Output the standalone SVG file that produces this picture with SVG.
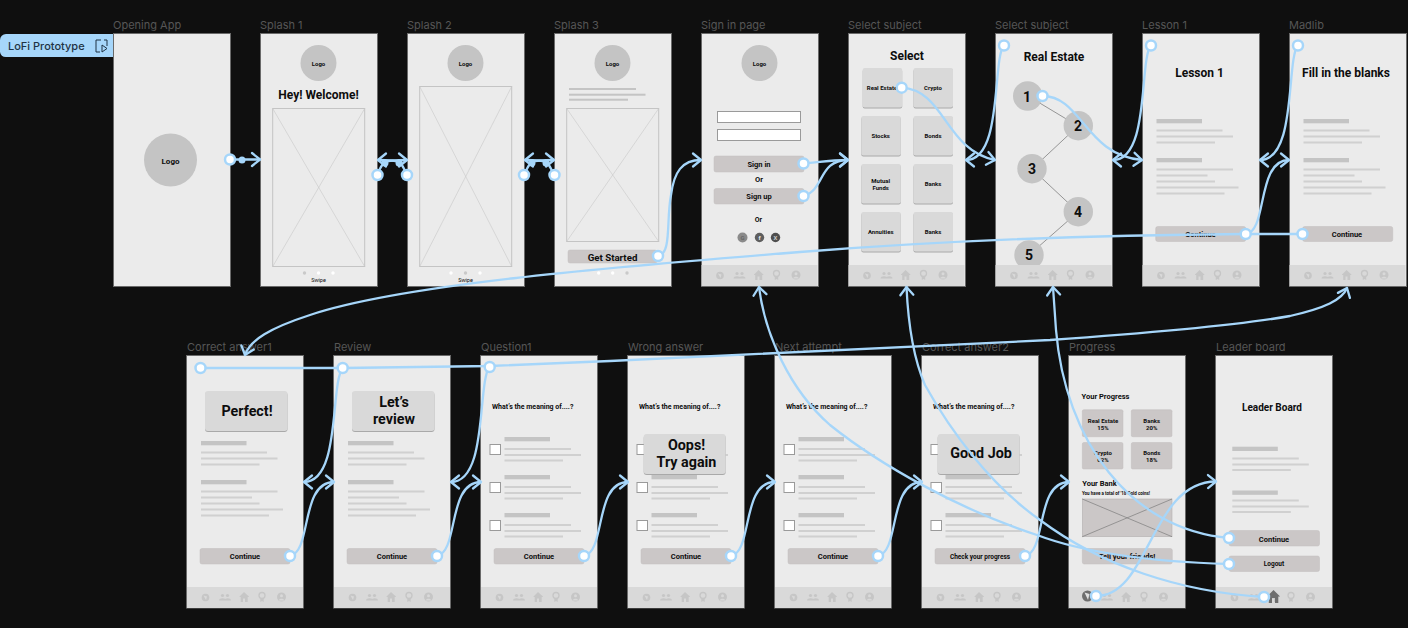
<svg xmlns="http://www.w3.org/2000/svg" width="1408" height="628" viewBox="0 0 1408 628">
<style>
text{font-family:Roboto,"Liberation Sans",sans-serif;font-weight:700;fill:#0d0d0d;text-anchor:middle;dominant-baseline:central}
.lbl{font-family:Inter,"Liberation Sans",sans-serif;font-weight:400;font-size:11px;fill:#565656;text-anchor:start;dominant-baseline:auto}
.f{fill:#ebebeb;stroke:#6a6a6a;stroke-width:1}
.nb{fill:#d9d9d9}
.ic{fill:#c6c6c6}
.bar{fill:#c4c4c4}
.ln{fill:#d0d0d0}
.cir{fill:#c4c4c4}
.ph{fill:none;stroke:#c4c4c4;stroke-width:1}
.phx{stroke:#c8c8c8;stroke-width:.6;fill:none}
.btn{fill:#cbc7c7;stroke:#c0bcbc;stroke-width:.5}
.tile{fill:#d9d9d9;filter:drop-shadow(0 1px .4px rgba(0,0,0,.28))}
.box{fill:#fff;stroke:#9a9a9a;stroke-width:1}
.c{fill:none;stroke:#a6d6fa;stroke-width:2.3;stroke-linecap:round;stroke-linejoin:round}
.a{marker-end:url(#arr)}
.h{fill:#fff;stroke:#a6d6fa;stroke-width:2.5}
.d{fill:#a6d6fa}
.s5{font-size:5.5px;font-weight:400}.s6{font-size:6px}.s65{font-size:6.5px}.s7{font-size:7px}.s75{font-size:7.5px}.s8{font-size:8px}.s10{font-size:10px}.s12{font-size:12px}.s15{font-size:14.3px}
.num{font-size:14px}
</style>
<defs>
<marker id="arr" markerUnits="userSpaceOnUse" markerWidth="22" markerHeight="22" refX="11" refY="11" orient="auto" overflow="visible">
<path d="M3 4.500L11 11L3 17.500" fill="none" stroke="#a6d6fa" stroke-width="2.300" stroke-linecap="round" stroke-linejoin="round"/>
</marker>
<g id="nav">
<rect class="nb" x=".5" y="231.500" width="116" height="21"/>
<circle class="ic" cx="19" cy="242" r="3.800"/><path d="M17 240l3.500 1-1 3.500z" fill="#d9d9d9"/>
<circle class="ic" cx="36" cy="240" r="1.600"/><circle class="ic" cx="41" cy="240" r="1.600"/><path class="ic" d="M32.500 245c0-3 7-3 7 0zM38 245c0-3 6.500-3 6.500 0z"/>
<path class="ic" d="M57.500 236.500L53 241v0.500h1.200v5h7v-5h1.200v-.5zM56.500 243h2v3.500h-2z"/>
<circle fill="none" stroke="#c6c6c6" stroke-width="1.300" cx="75.500" cy="240" r="3"/><path class="ic" d="M73.800 243h3.400v3.500l-1.700-1-1.700 1z"/>
<circle class="ic" cx="95" cy="241.500" r="4.500"/><circle cx="95" cy="240.200" r="1.500" fill="#d9d9d9"/><path d="M92 245c.8-2.200 5.200-2.200 6 0z" fill="#d9d9d9"/>
</g>
<g id="blk">
<rect class="bar" x="14.500" y="85.500" width="45.500" height="4.300"/>
<rect class="ln" x="14.500" y="96" width="66" height="2"/><rect class="ln" x="14.500" y="102" width="76.500" height="2"/><rect class="ln" x="14.500" y="108" width="58.500" height="2"/>
<rect class="bar" x="14.500" y="124.500" width="45.500" height="4.300"/>
<rect class="ln" x="14.500" y="135" width="76.500" height="2"/><rect class="ln" x="14.500" y="141" width="51" height="2"/><rect class="ln" x="14.500" y="147" width="58.500" height="2"/><rect class="ln" x="14.500" y="153" width="82" height="2"/><rect class="ln" x="14.500" y="159" width="68" height="2"/>
</g>
<g id="opt">
<rect class="bar" x="24" y="81.500" width="45.500" height="4.300"/>
<rect class="ln" x="24" y="92.500" width="66.500" height="2"/><rect class="ln" x="24" y="98.500" width="76.500" height="2"/><rect class="ln" x="24" y="104" width="58.500" height="2"/>
<rect class="bar" x="24" y="119.500" width="45.500" height="4.300"/>
<rect class="ln" x="24" y="130.500" width="66.500" height="2"/><rect class="ln" x="24" y="136.500" width="76.500" height="2"/><rect class="ln" x="24" y="142" width="58.500" height="2"/>
<rect class="bar" x="24" y="157.500" width="45.500" height="4.300"/>
<rect class="ln" x="24" y="168.500" width="66.500" height="2"/><rect class="ln" x="24" y="174.500" width="76.500" height="2"/><rect class="ln" x="24" y="180" width="58.500" height="2"/>
<rect class="box" x="9.500" y="89" width="10.500" height="10"/><rect class="box" x="9.500" y="127" width="10.500" height="10"/><rect class="box" x="9.500" y="165" width="10.500" height="10"/>
</g>
</defs>
<rect width="1408" height="628" fill="#0f0f0f"/>

<g id="lofi-label">
<path d="M113 34H6a6 6 0 0 0-6 6V52a6 6 0 0 0 6 5H113z" fill="#a6d6fa"/>
<text x="8" y="46" style="font-family:Inter,'Liberation Sans',sans-serif;font-weight:500;font-size:11px;text-anchor:start;fill:#1f3344">LoFi Prototype</text>
<path d="M101 40h-5v12h4M107 46v-6h-3M102 45v7l5-3.500z" fill="none" stroke="#1f3344" stroke-width="1"/>
</g>

<g id="opening-app">
<text class="lbl" x="113" y="29">Opening App</text>
<rect class="f" x="113.500" y="33.500" width="117" height="253"/>
<circle class="cir" cx="170.500" cy="160" r="26.500"/>
<text class="s8" x="170.500" y="161">Logo</text>
</g>

<g id="splash-1">
<text class="lbl" x="260" y="29">Splash 1</text>
<rect class="f" x="260.500" y="33.500" width="117" height="253"/>
<circle class="cir" cx="318.500" cy="63" r="18"/>
<text class="s6" x="318.500" y="63">Logo</text>
<text class="s12" x="318.500" y="94.500">Hey! Welcome!</text>
<rect class="ph" x="272.700" y="108.500" width="92" height="158"/>
<path class="phx" d="M272.700 108.500L364.700 266.500M364.700 108.500L272.700 266.500"/>
<circle cx="304.500" cy="273" r="1.700" fill="#c9c9c9"/><circle cx="318.500" cy="273" r="1.700" fill="#fff"/><circle cx="333" cy="273" r="1.700" fill="#fff"/>
<text class="s5" x="318.500" y="280">Swipe</text>
</g>

<g id="splash-2">
<text class="lbl" x="407" y="29">Splash 2</text>
<rect class="f" x="407.500" y="33.500" width="117" height="253"/>
<circle class="cir" cx="465.500" cy="63" r="18"/>
<text class="s6" x="465.500" y="63">Logo</text>
<rect class="ph" x="419.700" y="86.500" width="92" height="180"/>
<path class="phx" d="M419.700 86.500L511.700 266.500M511.700 86.500L419.700 266.500"/>
<circle cx="451" cy="273" r="1.700" fill="#fff"/><circle cx="465.500" cy="273" r="1.700" fill="#c9c9c9"/><circle cx="480" cy="273" r="1.700" fill="#fff"/>
<text class="s5" x="465.500" y="280">Swipe</text>
</g>

<g id="splash-3">
<text class="lbl" x="554" y="29">Splash 3</text>
<rect class="f" x="554.500" y="33.500" width="117" height="253"/>
<circle class="cir" cx="612.500" cy="63" r="18"/>
<text class="s6" x="612.500" y="63">Logo</text>
<rect class="ln" x="569" y="88" width="67" height="2" style="fill:#c4c4c4"/><rect class="ln" x="569" y="93.700" width="76.500" height="2" style="fill:#c4c4c4"/><rect class="ln" x="569" y="98.700" width="59" height="2" style="fill:#c4c4c4"/>
<rect class="ph" x="566.700" y="108.500" width="92" height="133"/>
<path class="phx" d="M566.700 108.500L658.700 241.500M658.700 108.500L566.700 241.500"/>
<rect class="btn" x="568" y="250" width="89" height="13" rx="2"/>
<text x="612.500" y="257" style="font-size:9.700px">Get Started</text>
<circle cx="598.700" cy="273" r="1.700" fill="#fff"/><circle cx="612.700" cy="273" r="1.700" fill="#fff"/><circle cx="627" cy="273" r="1.700" fill="#c9c9c9"/>
</g>

<g id="sign-in">
<text class="lbl" x="701" y="29">Sign in page</text>
<rect class="f" x="701.500" y="33.500" width="117" height="253"/>
<circle class="cir" cx="759.500" cy="63" r="18"/>
<text class="s6" x="759.500" y="63">Logo</text>
<rect class="box" x="717.500" y="111.500" width="83" height="11"/>
<rect class="box" x="717.500" y="129.500" width="83" height="11"/>
<rect class="btn" x="714" y="156" width="90" height="16" rx="2"/>
<text class="s75" x="759" y="164">Sign in</text>
<text class="s75" x="759" y="179.500">Or</text>
<rect class="btn" x="714" y="188.500" width="90" height="15.500" rx="2"/>
<text class="s75" x="759" y="196.500">Sign up</text>
<text class="s7" x="758.500" y="220">Or</text>
<circle cx="742.500" cy="237.500" r="5" fill="#8a8a8a"/><text x="742.500" y="237.700" style="font-size:6px;fill:#666">G</text>
<circle cx="759.500" cy="237.500" r="4.700" fill="#5e5e5e"/><text x="759.500" y="237.700" style="font-size:6px;fill:#eee">f</text>
<circle cx="775.500" cy="237.500" r="4.700" fill="#4e4e4e"/><text x="775.500" y="237.700" style="font-size:6px;fill:#ccc">X</text>
<use href="#nav" x="701" y="33.500"/>
</g>

<g id="select-subject">
<text class="lbl" x="848" y="29">Select subject</text>
<rect class="f" x="848.500" y="33.500" width="117" height="253"/>
<text class="s12" x="907" y="56">Select</text>
<rect class="tile" x="862.700" y="68" width="39.500" height="39.500" rx="2"/><rect class="tile" x="913.500" y="68" width="39.500" height="39.500" rx="2"/>
<rect class="tile" x="861.300" y="116" width="39.500" height="39.500" rx="2"/><rect class="tile" x="913.500" y="116" width="39.500" height="39.500" rx="2"/>
<rect class="tile" x="861.300" y="164" width="39.500" height="39.500" rx="2"/><rect class="tile" x="913.500" y="164" width="39.500" height="39.500" rx="2"/>
<rect class="tile" x="861.300" y="212" width="39.500" height="39.500" rx="2"/><rect class="tile" x="913.500" y="212" width="39.500" height="39.500" rx="2"/>
<text class="s6" x="882" y="87.700">Real Estate</text><text class="s6" x="933" y="87.700">Crypto</text>
<text class="s6" x="880.700" y="135.700">Stocks</text><text class="s6" x="933" y="135.700">Bonds</text>
<text class="s6" x="880.700" y="180">Mutual</text><text class="s6" x="880.700" y="187">Funds</text><text class="s6" x="933" y="183.700">Banks</text>
<text class="s6" x="880.700" y="231.700">Annuities</text><text class="s6" x="933" y="231.700">Banks</text>
<use href="#nav" x="848" y="33.500"/>
</g>

<g id="real-estate">
<text class="lbl" x="995" y="29">Select subject</text>
<rect class="f" x="995.500" y="33.500" width="117" height="253"/>
<text class="s12" x="1054" y="57">Real Estate</text>
<path d="M1028 96L1078 126L1032 169L1078 212L1029 255" fill="none" stroke="#5a5a5a" stroke-width=".6"/>
<circle class="cir" cx="1027.700" cy="96" r="14.700"/><circle class="cir" cx="1078.300" cy="125.700" r="14.700"/><circle class="cir" cx="1032" cy="168.700" r="14.700"/><circle class="cir" cx="1078.300" cy="211.700" r="14.700"/><circle class="cir" cx="1029" cy="255" r="14.700"/>
<text class="num" x="1027" y="96.500">1</text><text class="num" x="1078" y="126">2</text><text class="num" x="1032" y="169">3</text><text class="num" x="1078" y="212">4</text><text class="num" x="1029" y="255">5</text>
<use href="#nav" x="995" y="33.500"/>
</g>

<g id="lesson-1">
<text class="lbl" x="1142" y="29">Lesson 1</text>
<rect class="f" x="1142.500" y="33.500" width="117" height="253"/>
<text class="s12" x="1199.500" y="73">Lesson 1</text>
<use href="#blk" x="1142" y="33.500"/>
<rect class="btn" x="1155.700" y="226.500" width="90" height="15" rx="2"/>
<text class="s75" x="1200.500" y="234">Continue</text>
<use href="#nav" x="1142" y="33.500"/>
</g>

<g id="madlib">
<text class="lbl" x="1289" y="29">Madlib</text>
<rect class="f" x="1289.500" y="33.500" width="117" height="253"/>
<text class="s12" x="1346" y="73">Fill in the blanks</text>
<use href="#blk" x="1289" y="33.500"/>
<rect class="btn" x="1302.700" y="226.500" width="90" height="15" rx="2"/>
<text class="s75" x="1347" y="234">Continue</text>
<use href="#nav" x="1289" y="33.500"/>
</g>

<g id="correct-answer-1">
<text class="lbl" x="187" y="351">Correct answer1</text>
<rect class="f" x="186.500" y="355.500" width="117" height="252.500"/>
<rect class="tile" x="205" y="391" width="82.500" height="40" rx="3"/>
<text class="s15" x="247" y="411">Perfect!</text>
<use href="#blk" x="186.500" y="355.500"/>
<rect class="btn" x="200" y="548.500" width="90" height="15.500" rx="2"/>
<text class="s75" x="245" y="556">Continue</text>
<use href="#nav" x="186.500" y="355.500"/>
</g>

<g id="review">
<text class="lbl" x="334" y="351">Review</text>
<rect class="f" x="333.500" y="355.500" width="117" height="252.500"/>
<rect class="tile" x="352" y="391" width="82.500" height="40" rx="3"/>
<text class="s15" x="394" y="402">Let’s</text><text class="s15" x="394" y="419">review</text>
<use href="#blk" x="333.500" y="355.500"/>
<rect class="btn" x="347" y="548.500" width="90" height="15.500" rx="2"/>
<text class="s75" x="392" y="556">Continue</text>
<use href="#nav" x="333.500" y="355.500"/>
</g>

<g id="question-1">
<text class="lbl" x="481" y="351">Question1</text>
<rect class="f" x="480.500" y="355.500" width="117" height="252.500"/>
<text class="s7" x="532.700" y="406.500">What’s the meaning of....?</text>
<use href="#opt" x="480.500" y="355.500"/>
<rect class="btn" x="494" y="548.500" width="90" height="15.500" rx="2"/>
<text class="s75" x="539" y="556">Continue</text>
<use href="#nav" x="480.500" y="355.500"/>
</g>

<g id="wrong-answer">
<text class="lbl" x="628" y="351">Wrong answer</text>
<rect class="f" x="627.500" y="355.500" width="117" height="252.500"/>
<text class="s7" x="679.700" y="406.500">What’s the meaning of....?</text>
<use href="#opt" x="627.500" y="355.500"/>
<rect class="tile" x="643.700" y="434" width="82" height="40" rx="3"/>
<text class="s15" x="686.500" y="445">Oops!</text><text class="s15" x="686.500" y="462">Try again</text>
<rect class="btn" x="641" y="548.500" width="90" height="15.500" rx="2"/>
<text class="s75" x="686" y="556">Continue</text>
<use href="#nav" x="627.500" y="355.500"/>
</g>

<g id="next-attempt">
<text class="lbl" x="775" y="351">Next attempt</text>
<rect class="f" x="774.500" y="355.500" width="117" height="252.500"/>
<text class="s7" x="826.700" y="406.500">What’s the meaning of....?</text>
<use href="#opt" x="774.500" y="355.500"/>
<rect class="btn" x="788" y="548.500" width="90" height="15.500" rx="2"/>
<text class="s75" x="833" y="556">Continue</text>
<use href="#nav" x="774.500" y="355.500"/>
</g>

<g id="correct-answer-2">
<text class="lbl" x="922" y="351">Correct answer2</text>
<rect class="f" x="921.500" y="355.500" width="117" height="252.500"/>
<text class="s7" x="973.700" y="406.500">What’s the meaning of....?</text>
<use href="#opt" x="921.500" y="355.500"/>
<rect class="tile" x="937.700" y="434" width="82" height="40" rx="3"/>
<text class="s15" x="981" y="453">Good Job</text>
<rect class="btn" x="935" y="548.500" width="90" height="15.500" rx="2"/>
<text x="980" y="556.500" style="font-size:6.500px">Check your progress</text>
<use href="#nav" x="921.500" y="355.500"/>
</g>

<g id="progress">
<text class="lbl" x="1069" y="351">Progress</text>
<rect class="f" x="1068.500" y="355.500" width="117" height="252.500"/>
<text class="s75" x="1105.500" y="396">Your Progress</text>
<rect class="btn" x="1082.300" y="409.700" width="40.700" height="27" rx="1.500"/><rect class="btn" x="1131.300" y="409.700" width="40.700" height="27" rx="1.500"/>
<rect class="btn" x="1082.300" y="442.500" width="40.700" height="26.500" rx="1.500"/><rect class="btn" x="1131.300" y="442.500" width="40.700" height="26.500" rx="1.500"/>
<text class="s6" x="1103" y="420">Real Estate</text><text class="s6" x="1103" y="427">15%</text>
<text class="s6" x="1151.700" y="420">Banks</text><text class="s6" x="1151.700" y="427">20%</text>
<text class="s6" x="1103" y="452">Crypto</text><text class="s6" x="1103" y="459">62%</text>
<text class="s6" x="1151.700" y="452">Bonds</text><text class="s6" x="1151.700" y="459">18%</text>
<text class="s75" x="1099.500" y="483">Your Bank</text>
<text x="1116" y="493.500" style="font-size:4.500px">You have a total of '18 Gold coins!</text>
<rect x="1082.300" y="499" width="89.700" height="37.700" fill="#cbc7c7" stroke="#b5b1b1" stroke-width=".6"/>
<path d="M1082.300 499L1172 536.700M1172 499L1082.300 536.700" fill="none" stroke="#7c7c7c" stroke-width=".7"/>
<rect class="btn" x="1082.300" y="548.500" width="90" height="15.500" rx="2"/>
<text class="s75" x="1127" y="556">Tell your friends!</text>
<use href="#nav" x="1068.500" y="355.500"/>
<circle cx="1087.500" cy="596" r="5.500" fill="#6e6e6e"/><path d="M1084.500 592.500l5 1.500-1.500 6z" fill="#e0e0e0"/>
</g>

<g id="leader-board">
<text class="lbl" x="1216" y="351">Leader board</text>
<rect class="f" x="1215.500" y="355.500" width="117" height="252.500"/>
<text class="s10" x="1272" y="407">Leader Board</text>
<rect class="bar" x="1232.300" y="446.700" width="45.500" height="4.300"/>
<rect class="ln" x="1232.300" y="457.500" width="66.500" height="2"/><rect class="ln" x="1232.300" y="463.500" width="76.500" height="2"/><rect class="ln" x="1232.300" y="469" width="58.500" height="2"/>
<rect class="bar" x="1232.300" y="490.500" width="45.500" height="4.300"/>
<rect class="ln" x="1232.300" y="499.500" width="66.500" height="2"/><rect class="ln" x="1232.300" y="505.500" width="76.500" height="2"/><rect class="ln" x="1232.300" y="511" width="58.500" height="2"/>
<rect class="btn" x="1229" y="530.500" width="90.500" height="15.500" rx="2"/>
<text class="s75" x="1274" y="539">Continue</text>
<rect class="btn" x="1229" y="556" width="90.500" height="15.500" rx="2"/>
<text class="s65" x="1274" y="564">Logout</text>
<use href="#nav" x="1215.500" y="355.500"/>
<path d="M1273.500 590L1267 596.500h1.800V603h9.500v-6.500h1.800zM1272 598h3v5h-3z" fill="#6e6e6e" fill-rule="evenodd"/>
</g>

<g id="connectors">
<path class="c a" d="M230 159.500H260"/>
<path class="c a" d="M377 175C380 169 381 165 385 162C390 160 400 160 407 160"/>
<path class="c a" d="M407 175C404 169 403 165 399 162C394 160 384 160 378 160"/>
<path class="c a" d="M524 175C527 169 528 165 532 162C537 160 547 160 554 160"/>
<path class="c a" d="M554 175C551 169 550 165 546 162C541 160 531 160 525 160"/>
<path class="c a" d="M658 256C672 254 666 220 671 195C674 172 682 160 701 160"/>
<path class="c a" d="M803.500 163.500C820 162 832 160 848 160"/>
<path class="c a" d="M803.500 196C825 190 818 160 848 160"/>
<path class="c a" d="M901.700 87.700C945 90 945 150 995 160"/>
<path class="c a" d="M1004 45C992 60 1003 160 966 160"/>
<path class="c a" d="M1042.500 96C1082 96 1085 155 1142 160"/>
<path class="c a" d="M1151 45C1139 60 1150 160 1113 160"/>
<path class="c a" d="M1298 45C1286 60 1297 160 1260 160"/>
<path class="c a" d="M1245.700 234C1268 232 1256 160 1289 160"/>
<path class="c a" d="M1302 234H1245C1100 235 950 240 800 252C600 268 400 285 310 315C270 328 250 340 245 355"/>
<path class="c" d="M200.500 368H343"/>
<path class="c a" d="M343 368L490 366L610 361L1050 340C1150 333 1240 325 1290 316C1325 308 1342 300 1347 288"/>
<path class="c a" d="M342.700 368C330 384 341 482 304 482"/>
<path class="c a" d="M489.700 366C477 384 488 482 451 482"/>
<path class="c a" d="M290 556C312 552 300 482 334 482"/>
<path class="c a" d="M437 556C459 552 447 482 481 482"/>
<path class="c a" d="M584 556C606 552 594 482 628 482"/>
<path class="c a" d="M731 556C753 552 741 482 775 482"/>
<path class="c a" d="M878 556C900 552 888 482 922 482"/>
<path class="c a" d="M1025 556C1047 552 1035 482 1069 482"/>
<path class="c a" d="M1096 596C1150 596 1150 482 1216 481.500"/>
<path class="c a" d="M1229 538C1130 530 1065 440 1056 330C1055 315 1054 300 1053 287"/>
<path class="c a" d="M1229 564C1160 562 1090 555 1037 535C960 510 880 465 830 425C790 390 765 335 759 287"/>
<path class="c a" d="M1264 597C1180 592 1100 565 1040 520C990 485 950 430 925 385C912 355 908 320 906.500 287"/>
<circle class="d" cx="242" cy="160" r="3.500"/>
<circle class="d" cx="385" cy="163" r="3.500"/><circle class="d" cx="399" cy="163" r="3.500"/><circle class="d" cx="532" cy="163" r="3.500"/><circle class="d" cx="546" cy="163" r="3.500"/>
<circle class="h" cx="230" cy="159.500" r="5"/>
<circle class="h" cx="377.500" cy="175" r="5"/><circle class="h" cx="407" cy="175" r="5"/><circle class="h" cx="524" cy="175" r="5"/><circle class="h" cx="554.500" cy="175" r="5"/>
<circle class="h" cx="658" cy="256" r="5"/><circle class="h" cx="803.500" cy="163.500" r="5"/><circle class="h" cx="803.500" cy="196" r="5"/>
<circle class="h" cx="901.700" cy="87.700" r="5"/><circle class="h" cx="1004" cy="45.500" r="5"/><circle class="h" cx="1042.500" cy="96" r="5"/><circle class="h" cx="1151" cy="45.500" r="5"/><circle class="h" cx="1298" cy="45.500" r="5"/>
<circle class="h" cx="1245.700" cy="234" r="5"/><circle class="h" cx="1302.500" cy="234" r="5"/>
<circle class="h" cx="200.500" cy="368" r="5"/><circle class="h" cx="342.700" cy="368" r="5"/><circle class="h" cx="489.700" cy="367" r="5"/>
<circle class="h" cx="290" cy="556" r="5"/><circle class="h" cx="437" cy="556" r="5"/><circle class="h" cx="584" cy="556" r="5"/><circle class="h" cx="731" cy="556" r="5"/><circle class="h" cx="878" cy="556" r="5"/><circle class="h" cx="1025" cy="556" r="5"/>
<circle class="h" cx="1096" cy="596" r="5"/><circle class="h" cx="1229" cy="538" r="5"/><circle class="h" cx="1229" cy="564" r="5"/><circle class="h" cx="1264" cy="597" r="5"/>
</g>
</svg>
